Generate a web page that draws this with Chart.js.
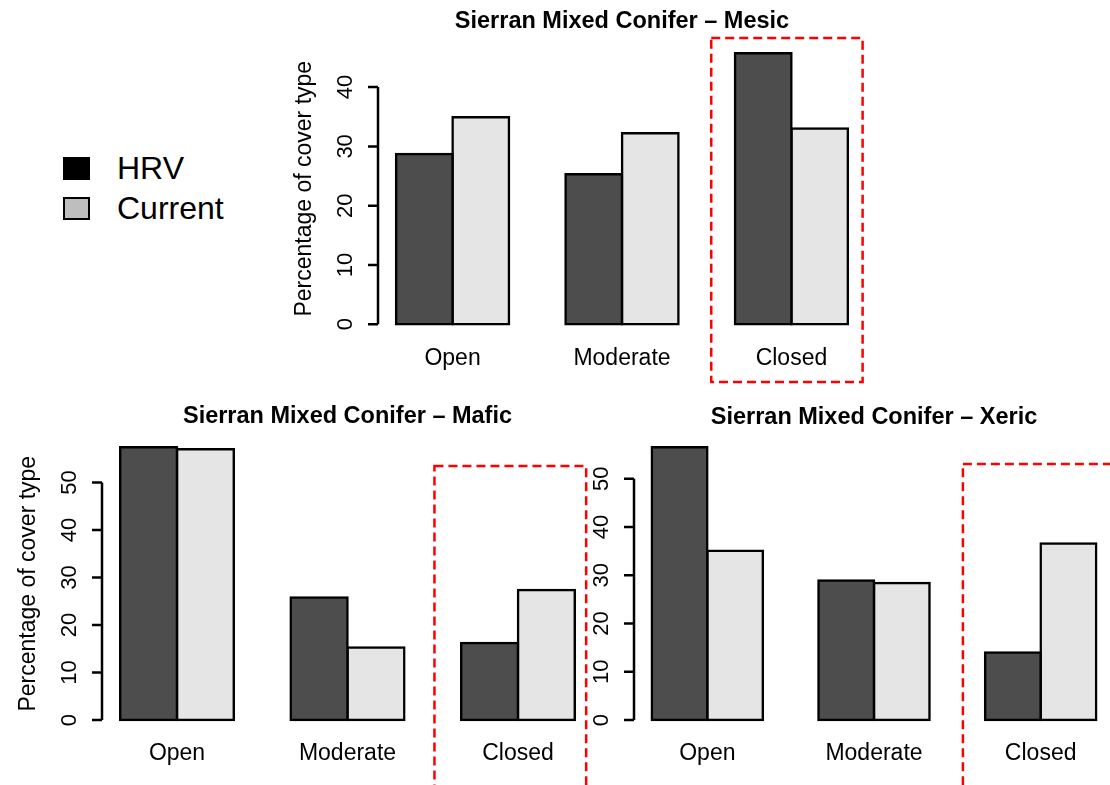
<!DOCTYPE html>
<html>
<head>
<meta charset="utf-8">
<script src="https://cdn.jsdelivr.net/npm/chart.js@4/dist/chart.umd.min.js"></script>
<style>
  html, body { margin: 0; padding: 0; background: #fff; overflow: hidden; }
  body { width: 1110px; height: 785px; position: relative; font-family: "Liberation Sans", Arial, sans-serif; }
  .plot { position: absolute; }
  .key-box { position: absolute; width: 27px; height: 23px; box-sizing: border-box; border: 2px solid #000; }
  .key-text { position: absolute; font-size: 32px; line-height: 32px; color: #000; }
</style>
</head>
<body>
<div class="plot" style="left:280px;top:0;width:600px;height:390px"><canvas id="mesic"></canvas></div>
<div class="plot" style="left:0;top:394px;width:600px;height:391px"><canvas id="mafic"></canvas></div>
<div class="plot" style="left:580px;top:394px;width:535px;height:391px"><canvas id="xeric"></canvas></div>
<div id="legend"></div>
<script>
const categories = ['Open', 'Moderate', 'Closed'];
const seriesNames = ['HRV', 'Current'];
const barFill = ['#4d4d4d', '#e5e5e5'];
const legendFill = ['#000000', '#bebebe'];

const mesicHRV = [28.7, 25.3, 45.7];
const mesicCurrent = [34.9, 32.2, 33.0];
const maficHRV = [57.4, 25.8, 16.2];
const maficCurrent = [57.0, 15.3, 27.4];
const xericHRV = [56.5, 28.9, 14.0];
const xericCurrent = [35.1, 28.4, 36.6];

const mesicTicks = [0, 10, 20, 30, 40];
const maficTicks = [0, 10, 20, 30, 40, 50];
const xericTicks = [0, 10, 20, 30, 40, 50];

const FONT = '"Liberation Sans", Arial, sans-serif';

// R barplot(beside=TRUE): bars 1 unit wide, 1 unit gap before each group, 4% axis extension
const groupPos = i => 2 + 3 * i;
const XMIN = 1 - 0.04 * 8, XMAX = 9 + 0.04 * 8;

// base-graphics style y axis, ylab and the red dashed highlight box
const rAxis = {
  id: 'rAxis',
  afterDraw(chart, args, opts) {
    const { ctx, chartArea } = chart;
    const y = chart.scales.y;
    const x0 = chartArea.left;
    const t = opts.ticks;
    ctx.save();
    ctx.strokeStyle = '#000';
    ctx.lineWidth = 2.5;
    ctx.beginPath();
    ctx.moveTo(x0, y.getPixelForValue(t[0]));
    ctx.lineTo(x0, y.getPixelForValue(t[t.length - 1]));
    t.forEach(v => {
      const py = y.getPixelForValue(v);
      ctx.moveTo(x0, py);
      ctx.lineTo(x0 - 10, py);
    });
    ctx.stroke();

    ctx.fillStyle = '#000';
    ctx.textAlign = 'center';
    ctx.textBaseline = 'middle';
    ctx.font = '22px ' + FONT;
    t.forEach(v => {
      ctx.save();
      ctx.translate(x0 - 32, y.getPixelForValue(v));
      ctx.rotate(-Math.PI / 2);
      ctx.fillText(String(v), 0, 0);
      ctx.restore();
    });
    if (opts.title) {
      ctx.font = '23px ' + FONT;
      ctx.save();
      ctx.translate(x0 - 73, (chartArea.top + chartArea.bottom) / 2);
      ctx.rotate(-Math.PI / 2);
      ctx.fillText(opts.title, 0, 0);
      ctx.restore();
    }
    if (opts.box) {
      const xs = chart.scales.x;
      const b = opts.box;
      const l = xs.getPixelForValue(b.from), r = xs.getPixelForValue(b.to);
      ctx.strokeStyle = '#ff0000';
      ctx.lineWidth = 2.5;
      ctx.setLineDash([9, 5]);
      ctx.strokeRect(l, b.top, r - l, b.bottom - b.top);
    }
    ctx.restore();
  }
};

function makeChart(id, cfg) {
  const all = cfg.hrv.concat(cfg.current);
  const top = Math.max(...all);
  const datasets = [cfg.hrv, cfg.current].map((vals, s) => ({
    label: seriesNames[s],
    data: vals.map((v, i) => ({ x: groupPos(i), y: v })),
    backgroundColor: barFill[s],
    borderColor: '#000',
    borderWidth: 2.5,
    borderSkipped: false,
    inflateAmount: 1.25,
    categoryPercentage: 2 / 3,
    barPercentage: 1
  }));
  return new Chart(document.getElementById(id), {
    type: 'bar',
    data: { datasets },
    plugins: [rAxis],
    options: {
      responsive: true,
      maintainAspectRatio: false,
      animation: false,
      events: [],
      layout: { padding: cfg.pad },
      scales: {
        x: {
          type: 'linear',
          min: XMIN,
          max: XMAX,
          offset: false,
          grid: { display: false, drawTicks: false },
          border: { display: false },
          afterBuildTicks: s => { s.ticks = categories.map((c, i) => ({ value: groupPos(i) })); },
          afterFit: s => { s.height = 40; },
          ticks: {
            autoSkip: false,
            maxRotation: 0,
            padding: cfg.tickPad,
            color: '#000',
            font: { family: FONT, size: 23 },
            callback: v => categories[(v - 2) / 3]
          }
        },
        y: {
          display: false,
          min: -0.04 * top,
          max: 1.04 * top
        }
      },
      plugins: {
        legend: { display: false },
        tooltip: { enabled: false },
        title: {
          display: true,
          text: cfg.title,
          color: '#000',
          font: { family: FONT, size: 23.5, weight: 'bold' },
          padding: cfg.titlePad
        },
        rAxis: { ticks: cfg.ticks, title: cfg.ylab, box: cfg.box }
      }
    }
  });
}

makeChart('mesic', {
  title: 'Sierran Mixed Conifer \u2013 Mesic',
  hrv: mesicHRV, current: mesicCurrent, ticks: mesicTicks,
  ylab: 'Percentage of cover type',
  pad: { left: 98, right: 14, top: 0, bottom: 15 },
  titlePad: { top: 7.3, bottom: 7 },
  tickPad: 10,
  box: { from: 6.58, to: 9.26, top: 38, bottom: 382 }
});

makeChart('mafic', {
  title: 'Sierran Mixed Conifer \u2013 Mafic',
  hrv: maficHRV, current: maficCurrent, ticks: maficTicks,
  ylab: 'Percentage of cover type',
  pad: { left: 102, right: 7, top: 0, bottom: 14 },
  titlePad: { top: 8.2, bottom: 6 },
  tickPad: 9,
  box: { from: 6.53, to: 9.2, top: 72, bottom: 420 }
});

makeChart('xeric', {
  title: 'Sierran Mixed Conifer \u2013 Xeric',
  hrv: xericHRV, current: xericCurrent, ticks: xericTicks,
  ylab: '',
  pad: { left: 54, right: 1, top: 0, bottom: 14 },
  titlePad: { top: 9.5, bottom: 4.7 },
  tickPad: 9,
  box: { from: 6.6, to: 10.5, top: 70, bottom: 420 }
});

const legend = document.getElementById('legend');
seriesNames.forEach((name, i) => {
  const box = document.createElement('div');
  box.className = 'key-box';
  box.style.left = '63px';
  box.style.top = (157 + 40 * i) + 'px';
  box.style.background = legendFill[i];
  legend.appendChild(box);
  const txt = document.createElement('div');
  txt.className = 'key-text';
  txt.style.left = '117px';
  txt.style.top = (152 + 40 * i) + 'px';
  txt.textContent = name;
  legend.appendChild(txt);
});
</script>
</body>
</html>
